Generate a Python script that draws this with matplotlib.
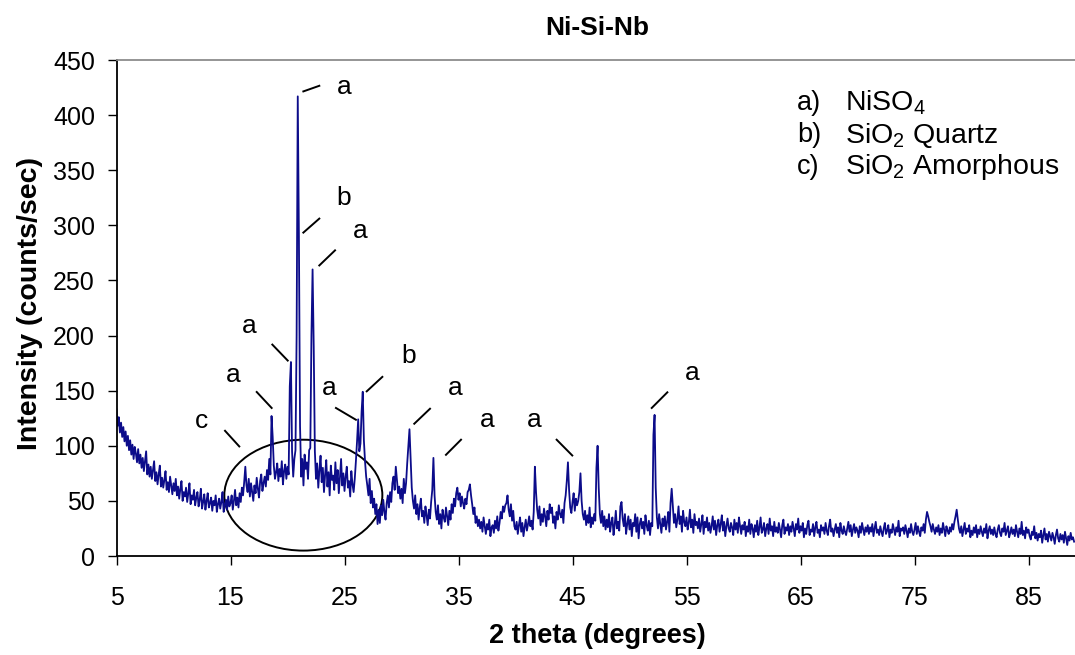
import numpy as np
import matplotlib
matplotlib.use("Agg")
import matplotlib.pyplot as plt
from matplotlib.patches import Ellipse

plt.rcParams["font.family"] = ["Liberation Sans", "DejaVu Sans"]
plt.rcParams["mathtext.fontset"] = "custom"
plt.rcParams["mathtext.rm"] = "Liberation Sans"
plt.rcParams["mathtext.it"] = "Liberation Sans:italic"
plt.rcParams["mathtext.bf"] = "Liberation Sans:bold"

# XRD scan of the Ni-Si-Nb sample, 0.1 degree steps starting at 2-theta = 5.0
start_angle = 5.0
step_angle = 0.1
intensity = [
    133, 118, 126, 112, 121, 108, 117, 104, 113, 100,   # 5
    109, 96, 105, 92, 101, 88, 99, 93, 85, 97,          # 6
    84, 92, 80, 89, 77, 86, 95, 74, 83, 72,             # 7
    81, 70, 78, 86, 68, 76, 65, 74, 82, 63,             # 8
    71, 62, 69, 77, 60, 67, 58, 72, 64, 56,             # 9
    66, 59, 70, 55, 63, 52, 61, 68, 50, 58,             # 10
    54, 62, 49, 57, 66, 47, 55, 51, 60, 46,             # 11
    53, 58, 45, 51, 61, 43, 49, 56, 42, 50,             # 12
    57, 44, 48, 53, 41, 50, 46, 55, 40, 47,             # 13
    52, 43, 49, 58, 40, 46, 51, 42, 54, 45,             # 14
    48, 55, 42, 50, 60, 46, 53, 44, 57, 49,             # 15
    62, 55, 67, 81, 64, 58, 70, 54, 66, 58,             # 16
    50, 64, 57, 71, 61, 53, 68, 74, 59, 66,             # 17
    72, 63, 78, 69, 88, 74, 127, 108, 82, 70,           # 18
    76, 84, 68, 79, 72, 86, 65, 77, 83, 70,             # 19
    81, 74, 154, 176, 95, 72, 88, 96, 200, 417,         # 20
    290, 118, 72, 88, 64, 92, 79, 85, 70, 96,           # 21
    98, 200, 260, 190, 95, 70, 84, 62, 78, 91,          # 22
    67, 80, 58, 74, 87, 63, 76, 55, 82, 69,             # 23
    73, 60, 85, 66, 78, 57, 71, 88, 64, 75,             # 24
    59, 72, 81, 62, 68, 54, 77, 65, 58, 70,             # 25
    86, 104, 124, 95, 102, 131, 149, 105, 86, 72,       # 26
    64, 55, 70, 48, 59, 44, 52, 38, 47, 29,             # 27
    42, 30, 46, 37, 51, 40, 33, 48, 55, 44,             # 28
    58, 49, 66, 72, 60, 81, 69, 57, 63, 52,             # 29
    61, 48, 70, 57, 66, 84, 100, 115, 88, 62,           # 30
    50, 43, 55, 38, 47, 33, 44, 52, 36, 41,             # 31
    30, 45, 37, 28, 42, 34, 49, 60, 89, 55,             # 32
    40, 33, 46, 29, 38, 25, 42, 35, 31, 44,             # 33
    36, 28, 41, 33, 47, 39, 52, 45, 57, 62,             # 34
    51, 57, 45, 54, 48, 43, 52, 47, 58, 60,             # 35
    65, 55, 47, 38, 44, 30, 36, 27, 33, 25,             # 36
    31, 22, 35, 27, 20, 29, 24, 33, 18, 26,             # 37
    28, 21, 32, 25, 36, 23, 30, 40, 34, 45,             # 38
    40, 46, 48, 55, 42, 36, 47, 32, 41, 27,             # 39
    24, 31, 20, 28, 35, 22, 30, 18, 26, 33,             # 40
    23, 29, 36, 27, 32, 24, 40, 81, 58, 42,             # 41
    34, 45, 28, 38, 31, 43, 36, 27, 41, 33,             # 42
    47, 39, 44, 30, 36, 25, 40, 33, 46, 38,             # 43
    35, 42, 30, 48, 55, 68, 85, 60, 44, 39,             # 44
    49, 57, 41, 52, 46, 50, 58, 75, 50, 38,             # 45
    33, 41, 28, 37, 30, 44, 26, 35, 29, 38,             # 46
    32, 80, 100, 62, 38, 30, 41, 27, 36, 24,            # 47
    33, 26, 38, 22, 30, 35, 19, 28, 41, 25,             # 48
    31, 23, 45, 49, 34, 27, 38, 20, 29, 36,             # 49
    24, 33, 18, 30, 27, 38, 22, 35, 16, 29,             # 50
    34, 25, 31, 20, 37, 28, 23, 32, 19, 30,             # 51
    27, 110, 128, 62, 35, 25, 38, 29, 21, 34,           # 52
    27, 36, 24, 31, 40, 22, 48, 61, 45, 30,             # 53
    38, 26, 33, 45, 29, 36, 22, 41, 31, 27,             # 54
    35, 24, 30, 42, 26, 33, 21, 38, 28, 31,             # 55
    25, 34, 22, 29, 37, 20, 31, 26, 35, 23,             # 56
    30, 21, 27, 36, 24, 32, 19, 28, 33, 22,             # 57
    29, 37, 23, 31, 18, 27, 34, 25, 22, 30,             # 58
    26, 19, 33, 24, 30, 21, 35, 27, 20, 28,             # 59
    24, 31, 18, 27, 22, 33, 20, 29, 25, 17,             # 60
    28, 22, 32, 19, 26, 35, 21, 24, 30, 18,             # 61
    25, 29, 20, 34, 23, 27, 18, 31, 22, 26,             # 62
    21, 30, 24, 17, 28, 33, 20, 26, 23, 29,             # 63
    19, 27, 22, 31, 25, 18, 29, 24, 34, 21,             # 64
    27, 23, 30, 17, 25, 20, 28, 32, 19, 24,             # 65
    22, 29, 18, 26, 31, 21, 24, 17, 28, 23,             # 66
    26, 20, 30, 23, 19, 27, 33, 22, 25, 18,             # 67
    24, 29, 21, 26, 17, 30, 23, 20, 27, 22,             # 68
    19, 25, 31, 22, 28, 18, 24, 29, 21, 26,             # 69
    23, 17, 27, 21, 30, 24, 19, 26, 22, 28,             # 70
    20, 26, 22, 29, 18, 25, 31, 21, 24, 19,             # 71
    27, 22, 18, 25, 30, 20, 23, 28, 17, 24,             # 72
    21, 29, 24, 19, 26, 22, 32, 18, 25, 23,             # 73
    26, 20, 28, 23, 17, 25, 21, 29, 22, 19,             # 74
    24, 30, 20, 27, 22, 18, 26, 23, 29, 21,             # 75
    33, 40, 36, 31, 27, 22, 29, 24, 20, 26,             # 76
    22, 28, 19, 25, 21, 30, 24, 18, 27, 23,             # 77
    20, 26, 22, 29, 24, 31, 36, 42, 33, 25,             # 78
    21, 27, 18, 24, 30, 20, 25, 22, 28, 17,             # 79
    23, 19, 26, 21, 28, 17, 24, 20, 27, 22,             # 80
    18, 25, 21, 29, 16, 23, 27, 20, 24, 19,             # 81
    26, 20, 17, 24, 28, 21, 18, 25, 22, 30,             # 82
    19, 23, 27, 17, 21, 26, 20, 24, 18, 28,             # 83
    22, 17, 25, 20, 31, 19, 23, 16, 26, 21,             # 84
    24, 18, 15, 22, 19, 27, 16, 21, 14, 20,             # 85
    17, 23, 12, 19, 25, 15, 20, 13, 22, 18,             # 86
    14, 21, 17, 11, 19, 24, 16, 13, 20, 15,             # 87
    19, 12, 22, 16, 10, 18, 14, 21, 15, 17,             # 88
    13,                                                 # 89
]

x_ticks = [5, 15, 25, 35, 45, 55, 65, 75, 85]
y_ticks = [0, 50, 100, 150, 200, 250, 300, 350, 400, 450]

phase_keys = ["a)", "b)", "c)"]
phase_names = [r"NiSO$_4$", r"SiO$_2$ Quartz", r"SiO$_2$ Amorphous"]

# peak labels: letter, tick line (x1, y1, x2, y2) and letter position
peak_letters = ["a", "b", "a", "a", "a", "c", "a", "b", "a", "a", "a", "a"]
peak_lines = [
    (21.39, 421.5, 22.79, 426.6),
    (21.39, 293.4, 22.79, 306.1),
    (22.79, 263.6, 24.17, 277.3),
    (18.67, 191.8, 20.02, 177.3),
    (17.30, 148.8, 18.61, 134.3),
    (14.52, 113.6, 15.77, 99.4),
    (24.25, 134.3, 26.00, 123.6),
    (26.95, 149.4, 28.32, 162.5),
    (31.12, 120.0, 32.50, 133.6),
    (33.90, 91.8, 35.22, 105.5),
    (43.61, 105.5, 44.98, 91.2),
    (51.95, 134.3, 53.32, 148.5),
]
peak_text_pos = [
    (24.96, 425.5), (24.96, 324.5), (26.36, 294.8), (16.65, 209.1),
    (15.25, 164.5), (12.47, 122.1), (23.64, 152.5), (30.60, 181.2),
    (34.75, 152.5), (37.53, 123.0), (41.65, 123.0), (55.54, 166.1),
]

two_theta = start_angle + step_angle * np.arange(len(intensity))

W, H = 1075, 655
fig = plt.figure(figsize=(W / 100, H / 100), dpi=100)
left_px, right_px, bottom_px, top_px = 116.5, 1075, 556, 60
ax = fig.add_axes([left_px / W, 1 - bottom_px / H,
                   (right_px - left_px) / W, (bottom_px - top_px) / H])

ax.plot(two_theta, intensity, color="#0c0c8a", lw=1.3)

px_per_deg = 11.4
ax.set_xlim(5, 5 + (right_px - left_px) / px_per_deg)
ax.set_ylim(0, 450)
ax.set_xticks(x_ticks)
ax.set_yticks(y_ticks)
ax.tick_params(axis="both", direction="out", length=6.5, width=1.0,
               labelsize=18, color="black")
ax.tick_params(axis="y", pad=9)
ax.tick_params(axis="x", pad=15)

ax.spines["right"].set_visible(False)
ax.spines["top"].set_color("#8c8c8c")
ax.spines["top"].set_linewidth(1.3)
for side in ("left", "bottom"):
    ax.spines[side].set_linewidth(1.3)

# amorphous hump outline
ax.add_patch(Ellipse((21.39, 55.2), 13.86, 100.6, fill=False,
                     edgecolor="black", lw=1.4, clip_on=False))

for letter, (x1, y1, x2, y2), (tx, ty) in zip(peak_letters, peak_lines, peak_text_pos):
    ax.plot([x1, x2], [y1, y2], color="black", lw=1.4, clip_on=False)
    ax.text(tx, ty, letter, ha="center", va="center", fontsize=19)

# phase key
row_y = [103, 135, 167]
for key, name, yp in zip(phase_keys, phase_names, row_y):
    fig.text(797 / W, 1 - yp / H, key, ha="left", va="center", fontsize=19.5)
    fig.text(845 / W, 1 - yp / H, name, ha="left", va="center", fontsize=20.5)

fig.text(597 / W, 1 - 28 / H, "Ni-Si-Nb", ha="center", va="center",
         fontsize=19, fontweight="bold")
fig.text(597 / W, 1 - 636 / H, "2 theta (degrees)", ha="center", va="center",
         fontsize=19.5, fontweight="bold")
fig.text(30 / W, 1 - 303 / H, "Intensity (counts/sec)", ha="center", va="center",
         rotation=90, fontsize=20.5, fontweight="bold")

fig.savefig("out.png", dpi=100)
